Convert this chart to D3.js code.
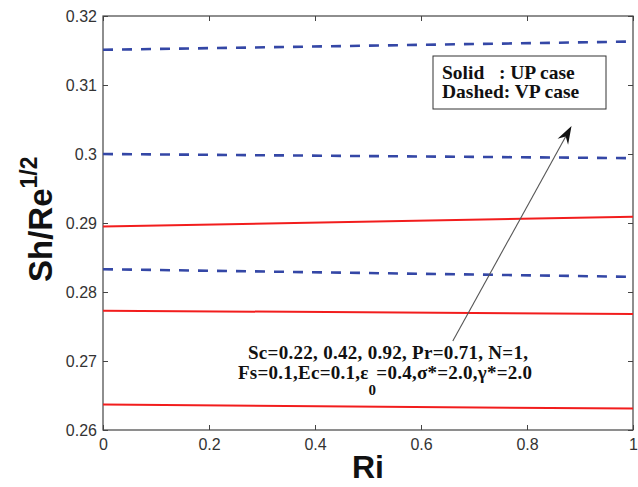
<!DOCTYPE html>
<html>
<head>
<meta charset="utf-8">
<script src="https://cdn.jsdelivr.net/npm/d3@7"></script>
<style>
  html, body { margin: 0; padding: 0; background: #fff; }
  svg { display: block; }
  text { white-space: pre; }
</style>
</head>
<body>
<script>
// ---- data ----
const ri = [0, 1];
// Solid (UP case), red
const upSeries = [
  [0.2895, 0.2909],
  [0.2773, 0.2768],
  [0.2637, 0.2631]
];
// Dashed (VP case), blue
const vpSeries = [
  [0.3151, 0.3163],
  [0.3000, 0.2994],
  [0.2833, 0.2822]
];
const xTicks = [0, 0.2, 0.4, 0.6, 0.8, 1];
const xTickLabels = ["0", "0.2", "0.4", "0.6", "0.8", "1"];
const yTicks = [0.26, 0.27, 0.28, 0.29, 0.30, 0.31, 0.32];
const yTickLabels = ["0.26", "0.27", "0.28", "0.29", "0.3", "0.31", "0.32"];
const legendLines = ["Solid   : UP case", "Dashed: VP case"];

// ---- layout ----
const W = 638, H = 487;
const pLeft = 103, pRight = 633, pTop = 16, pBottom = 430;

const svg = d3.select("body").append("svg").attr("width", W).attr("height", H);

const x = d3.scaleLinear().domain([0, 1]).range([pLeft, pRight]);
const y = d3.scaleLinear().domain([0.26, 0.32]).range([pBottom, pTop]);

const axisColor = "#444";
const labelColor = "#333";
const tickFont = "Liberation Sans, Arial, sans-serif";

function styleAxis(g) {
  g.select(".domain").remove();
  g.selectAll(".tick line").attr("stroke", axisColor).attr("stroke-width", 1);
  g.selectAll(".tick text").attr("fill", labelColor)
    .style("font-family", tickFont).style("font-size", "16px");
}

svg.append("g").attr("transform", `translate(0,${pBottom})`)
  .call(d3.axisBottom(x).tickValues(xTicks).tickSize(-5).tickPadding(9)
    .tickFormat((d, i) => xTickLabels[i]))
  .call(styleAxis);
svg.append("g").attr("transform", `translate(0,${pTop})`)
  .call(d3.axisTop(x).tickValues(xTicks).tickSize(-5).tickFormat(""))
  .call(styleAxis);
svg.append("g").attr("transform", `translate(${pLeft},0)`)
  .call(d3.axisLeft(y).tickValues(yTicks).tickSize(-5).tickPadding(6)
    .tickFormat((d, i) => yTickLabels[i]))
  .call(styleAxis);
svg.append("g").attr("transform", `translate(${pRight},0)`)
  .call(d3.axisRight(y).tickValues(yTicks).tickSize(-5).tickFormat(""))
  .call(styleAxis);

svg.append("rect")
  .attr("x", pLeft).attr("y", pTop)
  .attr("width", pRight - pLeft).attr("height", pBottom - pTop)
  .attr("fill", "none").attr("stroke", axisColor).attr("stroke-width", 1.2);

const line = d3.line().x((d, i) => x(ri[i])).y(d => y(d));

svg.selectAll("path.vp").data(vpSeries).enter().append("path")
  .attr("class", "vp")
  .attr("d", line)
  .attr("fill", "none")
  .attr("stroke", "#3447a6")
  .attr("stroke-width", 2.6)
  .attr("stroke-dasharray", "10,9");

svg.selectAll("path.up").data(upSeries).enter().append("path")
  .attr("class", "up")
  .attr("d", line)
  .attr("fill", "none")
  .attr("stroke", "#f21d1d")
  .attr("stroke-width", 2);

// legend box
const lg = svg.append("g");
lg.append("rect")
  .attr("x", 433).attr("y", 56).attr("width", 173).attr("height", 53)
  .attr("fill", "#fff").attr("stroke", "#333").attr("stroke-width", 1);
lg.selectAll("text").data(legendLines).enter().append("text")
  .attr("x", 442).attr("y", (d, i) => 78.5 + i * 19)
  .attr("fill", "#111")
  .style("font-family", "Liberation Serif, Times New Roman, serif")
  .style("font-weight", "bold").style("font-size", "19.5px")
  .text(d => d);

// arrow
const a0 = [x(0.66), y(0.2729)];
const a1 = [x(0.884), y(0.30406)];
const ang = Math.atan2(a1[1] - a0[1], a1[0] - a0[0]);
const headL = 18, headW = 6;
const bx = a1[0] - headL * Math.cos(ang), by = a1[1] - headL * Math.sin(ang);
svg.append("line")
  .attr("x1", a0[0]).attr("y1", a0[1]).attr("x2", bx + 6 * Math.cos(ang)).attr("y2", by + 6 * Math.sin(ang))
  .attr("stroke", "#555").attr("stroke-width", 1.1);
const nx = -Math.sin(ang), ny = Math.cos(ang);
const ix = a1[0] - 12 * Math.cos(ang), iy = a1[1] - 12 * Math.sin(ang);
svg.append("path")
  .attr("d", `M${a1[0]},${a1[1]} L${bx + headW * nx},${by + headW * ny} L${ix},${iy} L${bx - headW * nx},${by - headW * ny} Z`)
  .attr("fill", "#111");

// annotation text
const annFont = "Liberation Serif, Times New Roman, serif";
svg.append("text")
  .attr("x", 248).attr("y", 359)
  .attr("textLength", 280).attr("lengthAdjust", "spacing")
  .attr("fill", "#111")
  .style("font-family", annFont).style("font-weight", "bold").style("font-size", "19px")
  .text("Sc=0.22, 0.42, 0.92, Pr=0.71, N=1,");
const t2 = svg.append("text")
  .attr("x", 238).attr("y", 379)
  .attr("textLength", 294).attr("lengthAdjust", "spacing")
  .attr("fill", "#111")
  .style("font-family", annFont).style("font-weight", "bold").style("font-size", "19px");
t2.append("tspan").text("Fs=0.1,Ec=0.1,\u03B5");
t2.append("tspan").attr("dy", 16).style("font-size", "15px").text("0");
t2.append("tspan").attr("dy", -16).text("=0.4,\u03C3*=2.0,\u03B3*=2.0");

// axis titles
svg.append("text")
  .attr("x", (pLeft + pRight) / 2).attr("y", 478)
  .attr("text-anchor", "middle")
  .attr("fill", "#111")
  .style("font-family", tickFont).style("font-weight", "bold").style("font-size", "32px")
  .text("Ri");

const yl = svg.append("text")
  .attr("transform", `translate(52,282) rotate(-90)`)
  .attr("text-anchor", "start")
  .attr("fill", "#111")
  .style("font-family", tickFont).style("font-weight", "bold").style("font-size", "33px");
yl.append("tspan").text("Sh/Re");
yl.append("tspan").attr("dy", -15).style("font-size", "23px").text("1/2");
</script>
</body>
</html>
